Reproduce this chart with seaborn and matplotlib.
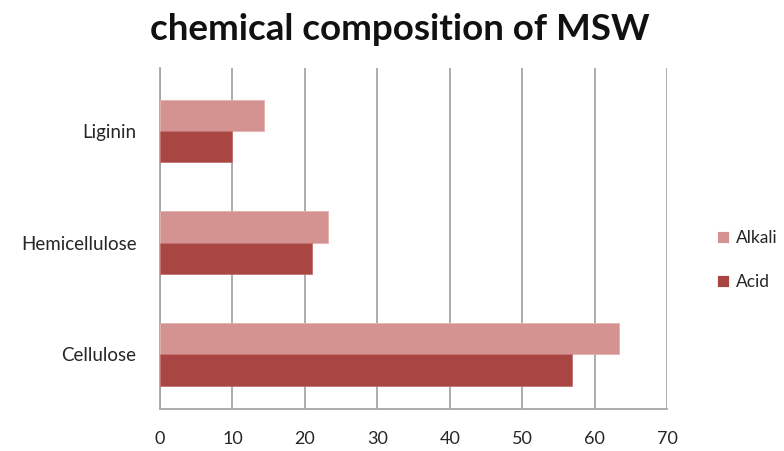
import matplotlib
matplotlib.use("Agg")
import matplotlib.pyplot as plt
import seaborn as sns
import pandas as pd

# Composition (%) of municipal solid waste after pretreatment
components = ["Liginin", "Hemicellulose", "Cellulose"]
alkali = [14.3, 23.2, 63.4]
acid = [9.9, 21.0, 56.9]
treatments = ["Alkali", "Acid"]
x_ticks = [0, 10, 20, 30, 40, 50, 60, 70]

df = pd.DataFrame({
    "component": components * 2,
    "value": alkali + acid,
    "treatment": ["Alkali"] * 3 + ["Acid"] * 3,
})

sns.set_theme(style="white")
plt.rcParams["font.family"] = ["Lato", "DejaVu Sans"]

fig = plt.figure(figsize=(7.84, 4.51), dpi=100)
ax = fig.add_axes([0.2041, 0.0931, 0.6467, 0.7561])

palette = {"Alkali": "#D49291", "Acid": "#A94644"}
edges = {"Alkali": "#E3B3B2", "Acid": "#C27371"}
sns.barplot(data=df, x="value", y="component", hue="treatment",
            order=components, hue_order=treatments, palette=palette,
            orient="h", width=0.56, saturation=1, ax=ax, legend=True,
            linewidth=0.6, zorder=3)

# light outline around each bar, matching its series
for container, name in zip(ax.containers, treatments):
    for bar in container:
        bar.set_edgecolor(edges[name])

grid_col = "#A6A6A6"
ax.set_xlim(0, 70)
ax.set_ylim(2.49, -0.565)
ax.set_xticks(x_ticks)
ax.xaxis.grid(True, color=grid_col, linewidth=1.3, zorder=0)
ax.set_axisbelow(True)
for s in ["top", "right"]:
    ax.spines[s].set_visible(False)
for s in ["left", "bottom"]:
    ax.spines[s].set_color(grid_col)
    ax.spines[s].set_linewidth(1.3)

ax.set_xlabel("")
ax.set_ylabel("")
ax.tick_params(axis="x", length=0, pad=16, labelsize=13, labelcolor="#262626")
ax.tick_params(axis="y", length=0, pad=17, labelsize=13.5, labelcolor="#262626")

fig.text(0.51, 0.935, "chemical composition of MSW", ha="center", va="center",
         fontsize=26.5, fontweight="bold", color="#111111")

handles, labels = ax.get_legend_handles_labels()
ax.legend(handles, labels, loc="center left", bbox_to_anchor=(0.904, 0.423),
          bbox_transform=fig.transFigure, frameon=False, fontsize=12.5,
          borderpad=0, handlelength=0.65, handleheight=0.65, handletextpad=0.4,
          labelspacing=1.6, labelcolor="#262626")

fig.savefig("out.png", dpi=100)
